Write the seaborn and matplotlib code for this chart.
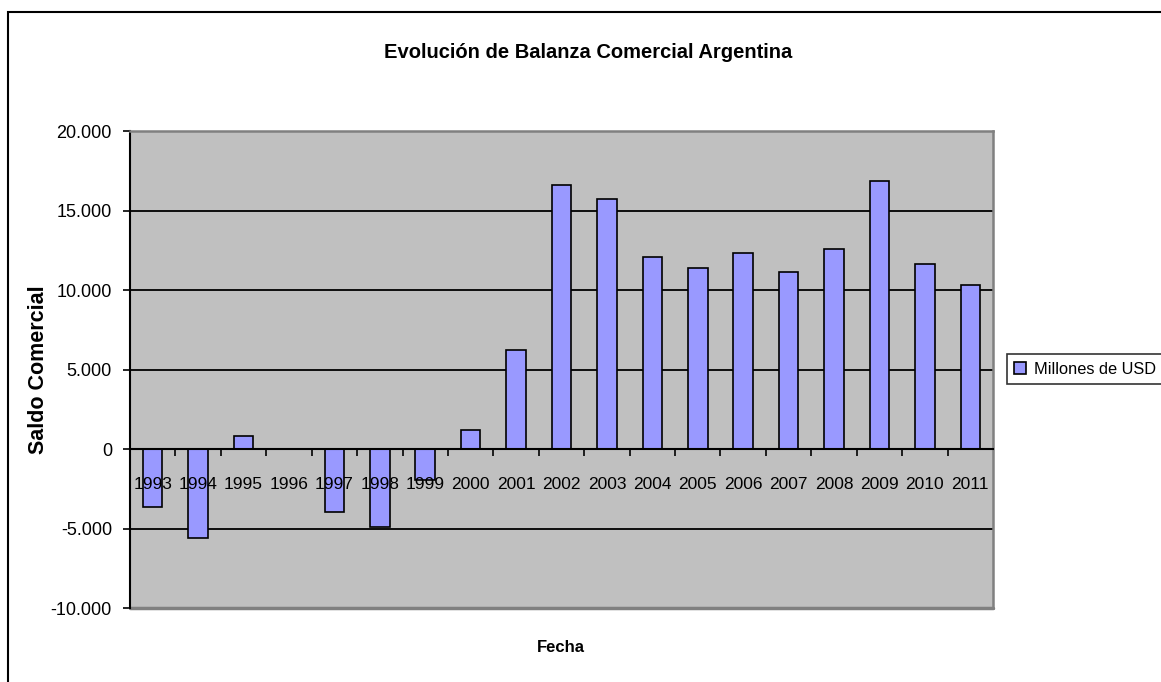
import matplotlib
matplotlib.use("Agg")
import matplotlib.pyplot as plt
import matplotlib.patches as mpatches
from matplotlib.ticker import FuncFormatter, FixedLocator
import seaborn as sns
import pandas as pd
import numpy as np

years = ["1993", "1994", "1995", "1996", "1997", "1998", "1999", "2000", "2001", "2002",
         "2003", "2004", "2005", "2006", "2007", "2008", "2009", "2010", "2011"]
saldo = [-3630, -5600, 850, 0, -3960, -4900, -1950, 1180, 6230, 16630,
         15700, 12110, 11390, 12320, 11160, 12560, 16860, 11620, 10350]
y_ticks = [-10000, -5000, 0, 5000, 10000, 15000, 20000]
title = "Evolución de Balanza Comercial Argentina"
x_label = "Fecha"
y_label = "Saldo Comercial"
series_name = "Millones de USD"

df = pd.DataFrame({"Fecha": years, "Saldo": saldo})

sns.set_style("white")
plt.rcParams["font.family"] = ["Liberation Sans", "DejaVu Sans"]
plt.rcParams["text.color"] = "black"
plt.rcParams["xtick.color"] = "black"
plt.rcParams["ytick.color"] = "black"
plt.rcParams["xtick.labelcolor"] = "black"
plt.rcParams["ytick.labelcolor"] = "black"

W, H = 1161, 682
fig = plt.figure(figsize=(W / 100, H / 100), dpi=100)
fig.patch.set_facecolor("white")

# plot area in pixels
L, R, T, B = 130, 993, 131, 608.3
ax = fig.add_axes([L / W, 1 - B / H, (R - L) / W, (B - T) / H])
ax.set_facecolor("#C0C0C0")

bar_color = "#9999FF"
sns.barplot(data=df, x="Fecha", y="Saldo", color=bar_color, saturation=1,
            edgecolor="black", linewidth=1.2, width=0.43, ax=ax, zorder=2)

ax.set_ylim(y_ticks[0], y_ticks[-1])
ax.set_xlim(-0.5, len(years) - 0.5)
ax.set_yticks(y_ticks)
ax.yaxis.set_major_formatter(FuncFormatter(lambda v, p: f"{int(v):,}".replace(",", ".")))

# interior gridlines
for v in y_ticks[1:-1]:
    if v != 0:
        ax.axhline(v, color="black", lw=1.3, zorder=1)

# spines
ax.spines["left"].set_color("black")
ax.spines["left"].set_linewidth(1.5)
ax.spines["bottom"].set_position(("data", 0))
ax.spines["bottom"].set_color("black")
ax.spines["bottom"].set_linewidth(1.5)
ax.spines["bottom"].set_zorder(4)
for s in ["top", "right"]:
    ax.spines[s].set_visible(True)
    ax.spines[s].set_color("#808080")
    ax.spines[s].set_linewidth(1.8)
ax.plot([0, 1], [0, 0], transform=ax.transAxes, color="#808080", lw=2.5,
        clip_on=False, zorder=2)

# ticks
ax.tick_params(axis="y", which="major", direction="out", length=5, width=1.2,
               color="black", left=True, pad=8, labelsize=13)
ax.xaxis.set_minor_locator(FixedLocator(np.arange(0.5, len(years) - 1, 1.0)))
ax.tick_params(axis="x", which="minor", direction="out", length=5, width=1.2,
               color="black", bottom=True)
ax.tick_params(axis="x", which="major", length=0, pad=20, labelsize=12.5)
ax.xaxis.set_zorder(5)
ax.set_xlabel("")
ax.set_ylabel("")
if ax.legend_:
    ax.legend_.remove()

# texts
fig.text(588 / W, 1 - 53 / H, title, ha="center", va="center",
         fontsize=14.5, fontweight="bold")
fig.text(561 / W, 1 - 648 / H, x_label, ha="center", va="center",
         fontsize=12, fontweight="bold")
fig.text(38.5 / W, 1 - 370 / H, y_label, ha="center", va="center",
         fontsize=15.5, fontweight="bold", rotation=90)

# legend
handle = mpatches.Patch(facecolor=bar_color, edgecolor="black", linewidth=1.2)
leg = fig.legend([handle], [series_name], loc="center left",
                 bbox_to_anchor=(1007 / W, 1 - 369 / H), frameon=True,
                 fancybox=False, edgecolor="black", fontsize=11.8,
                 borderaxespad=0, handlelength=0.7, handleheight=0.7,
                 handletextpad=0.5, borderpad=0.45)
leg.get_frame().set_linewidth(1.2)

# chart area border
fig.patches.append(mpatches.Rectangle((8 / W, -0.2), 2, 1 - 12 / H + 0.2,
                                      transform=fig.transFigure, fill=False,
                                      edgecolor="black", lw=1.5))

fig.savefig("out.png", dpi=100)
